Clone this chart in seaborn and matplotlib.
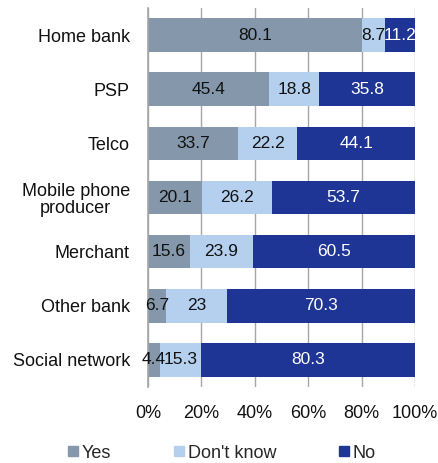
import matplotlib
matplotlib.use("Agg")
import matplotlib.pyplot as plt
import seaborn as sns
import pandas as pd
import numpy as np

categories = ["Home bank", "PSP", "Telco", "Mobile phone\nproducer", "Merchant", "Other bank", "Social network"]
yes = [80.1, 45.4, 33.7, 20.1, 15.6, 6.7, 4.4]
dont_know = [8.7, 18.8, 22.2, 26.2, 23.9, 23, 15.3]
no = [11.2, 35.8, 44.1, 53.7, 60.5, 70.3, 80.3]
series_names = ["Yes", "Don't know", "No"]
colors = ["#8497AB", "#B4D0EE", "#1F3596"]
text_colors = ["#111111", "#111111", "white"]
tick_labels = ["0%", "20%", "40%", "60%", "80%", "100%"]

sns.set_theme(style="white")
plt.rcParams["font.family"] = ["Liberation Sans", "DejaVu Sans"]

df = pd.DataFrame({"category": categories, "Yes": yes, "Don't know": dont_know, "No": no})

fig = plt.figure(figsize=(4.39, 4.63), dpi=100)
ax = fig.add_axes([148 / 439, 1 - 387 / 463, (415 - 148) / 439, (387 - 8) / 463])

# cumulative right edges of each stacked segment
left = np.zeros(len(categories))
edges = []
for name in series_names:
    edges.append(left + df[name].to_numpy())
    left = edges[-1]

# draw the widest (rightmost) segment first so shorter ones sit on top
for k in reversed(range(len(series_names))):
    sns.barplot(x=edges[k], y=df["category"], color=colors[k], orient="h", ax=ax,
                width=0.62, saturation=1, linewidth=0, legend=False)

starts = np.zeros(len(categories))
for k, name in enumerate(series_names):
    vals = df[name].to_numpy()
    for i, (l, v) in enumerate(zip(starts, vals)):
        ax.text(l + v / 2, i, f"{v:g}", ha="center", va="center", color=text_colors[k],
                fontsize=12.5, zorder=10)
    starts = starts + vals

ax.set_xlim(0, 100)
ax.set_ylim(len(categories) - 0.5, -0.5)
ax.set_xticks([0, 20, 40, 60, 80, 100])
ax.set_xticklabels(tick_labels, fontsize=13, color="#111111")
ax.tick_params(axis="y", labelsize=13, colors="#111111", length=0, pad=13)
ax.tick_params(axis="x", length=0, pad=13)
for lbl in ax.get_yticklabels():
    lbl.set_multialignment("center")
    lbl.set_linespacing(1.05)
ax.set_xlabel("")
ax.set_ylabel("")
ax.grid(axis="x", color="#A6A6A6", linewidth=1)
ax.set_axisbelow(True)
for s in ["top", "right", "bottom"]:
    ax.spines[s].set_visible(False)
ax.spines["left"].set_color("#A6A6A6")
ax.spines["left"].set_linewidth(1.2)

# legend entries, each placed on its own
legend_x = [68, 174, 339]
for name, c, x in zip(series_names, colors, legend_x):
    h = plt.Line2D([0], [0], marker="s", linestyle="", markersize=7,
                   markerfacecolor=c, markeredgecolor=c)
    fig.legend([h], [name], loc="center left", bbox_to_anchor=(x / 439, 1 - 453 / 463),
               frameon=False, fontsize=13, handletextpad=0.2, handlelength=0.55,
               borderaxespad=0, borderpad=0)

fig.savefig("out.png", dpi=100)
